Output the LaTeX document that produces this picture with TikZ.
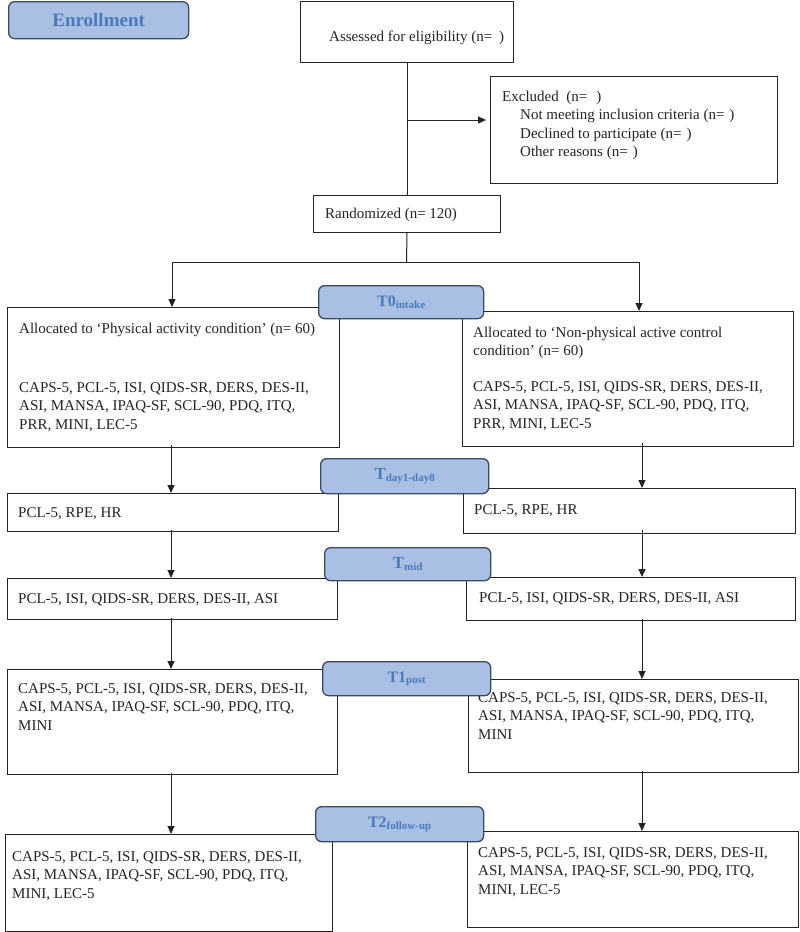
\documentclass[tikz,border=0pt]{standalone}
\usepackage{fontspec}
\setmainfont{Liberation Serif}
\usetikzlibrary{arrows.meta}
\definecolor{lblfill}{RGB}{170,191,228}
\definecolor{lbldraw}{RGB}{60,72,92}
\definecolor{lbltext}{RGB}{74,122,186}
\definecolor{ink}{RGB}{35,35,35}
\newcommand\fl{\rule{0pt}{11pt}}
\begin{document}
\begin{tikzpicture}[x=1pt,y=-1pt,
  box/.style={draw=ink, line width=1pt, inner sep=0, anchor=north west},
  lbl/.style={draw=lbldraw, fill=lblfill, rounded corners=6pt, line width=1.3pt, inner sep=0, anchor=north west, text=lbltext, font=\bfseries},
  txt/.style={inner sep=0, anchor=north west, align=left, text=ink, font=\fontsize{15}{18.5}\selectfont},
  arr/.style={-{Triangle[length=8pt,width=7pt]}, line width=1pt, draw=ink},
  conn/.style={line width=1pt, draw=ink},
]
\useasboundingbox (0,0) rectangle (800,932);

% boxes
\node[box, minimum width=213pt, minimum height=61pt] (ass) at (300,1) {};
\node[box, minimum width=287pt, minimum height=107pt] (excl) at (490,76) {};
\node[box, minimum width=187pt, minimum height=37pt] (rand) at (313,195) {};
\node[box, minimum width=332pt, minimum height=140pt] (l1) at (7,307) {};
\node[box, minimum width=331pt, minimum height=135pt] (r1) at (462,311) {};
\node[box, minimum width=331pt, minimum height=38pt] (l2) at (7,493) {};
\node[box, minimum width=332pt, minimum height=45pt] (r2) at (463,488) {};
\node[box, minimum width=330pt, minimum height=41pt] (l3) at (7,578) {};
\node[box, minimum width=329pt, minimum height=43pt] (r3) at (466,577) {};
\node[box, minimum width=330pt, minimum height=105pt] (l4) at (7,669) {};
\node[box, minimum width=330pt, minimum height=93pt] (r4) at (468,679) {};
\node[box, minimum width=327pt, minimum height=97pt] (l5) at (5,834) {};
\node[box, minimum width=331pt, minimum height=96pt] (r5) at (467,831) {};

% texts
\node[txt] (asst) at (329,30) {\fl Assessed for eligibility (n=\hspace{7pt})};
\node[txt] (exclt) at (502,90) {\fl Excluded\ \ (n=\hspace{9pt})\\
\hspace*{18pt}Not meeting inclusion criteria (n=\hspace{5pt})\\
\hspace*{18pt}Declined to participate (n=\hspace{5pt})\\
\hspace*{18pt}Other reasons (n=\hspace{5pt})};
\node[txt] (randt) at (325,207) {\fl Randomized (n= 120)};
\node[txt] (l1t) at (19,322) {\fl Allocated to ‘Physical activity condition’ (n= 60)\\[40.5pt]
CAPS-5, PCL-5, ISI, QIDS-SR, DERS, DES-II,\\
ASI, MANSA, IPAQ-SF, SCL-90, PDQ, ITQ,\\
PRR, MINI, LEC-5};
\node[txt] (r1t) at (473,326) {\fl Allocated to ‘Non-physical active control\\
condition’ (n= 60)\\[17pt]
CAPS-5, PCL-5, ISI, QIDS-SR, DERS, DES-II,\\
ASI, MANSA, IPAQ-SF, SCL-90, PDQ, ITQ,\\
PRR, MINI, LEC-5};
\node[txt] (l2t) at (18,506) {\fl PCL-5, RPE, HR};
\node[txt] (r2t) at (474,503) {\fl PCL-5, RPE, HR};
\node[txt] (l3t) at (18,592) {\fl PCL-5, ISI, QIDS-SR, DERS, DES-II, ASI};
\node[txt] (r3t) at (479,591) {\fl PCL-5, ISI, QIDS-SR, DERS, DES-II, ASI};
\node[txt] (l4t) at (18,682) {\fl CAPS-5, PCL-5, ISI, QIDS-SR, DERS, DES-II,\\
ASI, MANSA, IPAQ-SF, SCL-90, PDQ, ITQ,\\
MINI};
\node[txt] (r4t) at (478,691) {\fl CAPS-5, PCL-5, ISI, QIDS-SR, DERS, DES-II,\\
ASI, MANSA, IPAQ-SF, SCL-90, PDQ, ITQ,\\
MINI};
\node[txt] (l5t) at (12,850) {\fl CAPS-5, PCL-5, ISI, QIDS-SR, DERS, DES-II,\\
ASI, MANSA, IPAQ-SF, SCL-90, PDQ, ITQ,\\
MINI, LEC-5};
\node[txt] (r5t) at (478,846) {\fl CAPS-5, PCL-5, ISI, QIDS-SR, DERS, DES-II,\\
ASI, MANSA, IPAQ-SF, SCL-90, PDQ, ITQ,\\
MINI, LEC-5};

% connectors
\coordinate (exj) at (406.5,120);
\draw[conn] (ass.south) -- (rand.north);
\draw[arr] (exj) -- ([xshift=-4pt]excl.west |- exj);
\coordinate (sp) at (406.5,262);
\coordinate (spL) at (172,262);
\coordinate (spR) at (639,262);
\draw[conn] (rand.south) -- (sp);
\draw[conn] (spL) -- (spR);
\draw[arr] (spL) -- (spL |- l1.north);
\draw[arr] (spR) -- (spR |- r1.north);
\coordinate (cl) at (171,0);
\coordinate (cr) at (642,0);
\draw[arr] ([yshift=3pt]cl |- l1.south) -- (cl |- l2.north);
\draw[arr] ([yshift=4pt]cr |- r1.south) -- (cr |- r2.north);
\draw[arr] ([yshift=2pt]cl |- l2.south) -- (cl |- l3.north);
\draw[arr] ([yshift=4pt]cr |- r2.south) -- (cr |- r3.north);
\draw[arr] ([yshift=2pt]cl |- l3.south) -- (cl |- l4.north);
\draw[arr] ([yshift=2pt]cr |- r3.south) -- (cr |- r4.north);
\draw[arr] ([yshift=2pt]cl |- l4.south) -- (cl |- l5.north);
\draw[arr] ([yshift=2pt]cr |- r4.south) -- (cr |- r5.north);

% labels
\node[lbl, minimum width=180pt, minimum height=37pt, font=\fontsize{19}{19}\selectfont\bfseries] (enr) at (8,1) {Enrollment};
\node[lbl, minimum width=165pt, minimum height=33pt] (t0) at (318,285) {{\fontsize{16}{16}\selectfont T0}{\fontsize{11}{11}\selectfont\raisebox{-1.5pt}{intake}}};
\node[lbl, minimum width=168pt, minimum height=35pt] (td) at (320,458) {{\fontsize{17}{17}\selectfont T}{\fontsize{11}{11}\selectfont\raisebox{-2pt}{day1-day8}}};
\node[lbl, minimum width=166pt, minimum height=33pt] (tm) at (324,547) {{\fontsize{17}{17}\selectfont T}{\fontsize{11}{11}\selectfont\raisebox{-2pt}{mid}}};
\node[lbl, minimum width=168pt, minimum height=34pt] (t1) at (322,661) {{\fontsize{16}{16}\selectfont T1}{\fontsize{11}{11}\selectfont\raisebox{-1.5pt}{post}}};
\node[lbl, minimum width=168pt, minimum height=35pt] (t2) at (315,806) {{\fontsize{16}{16}\selectfont T2}{\fontsize{11}{11}\selectfont\raisebox{-1.5pt}{follow-up}}};
\end{tikzpicture}
\end{document}
